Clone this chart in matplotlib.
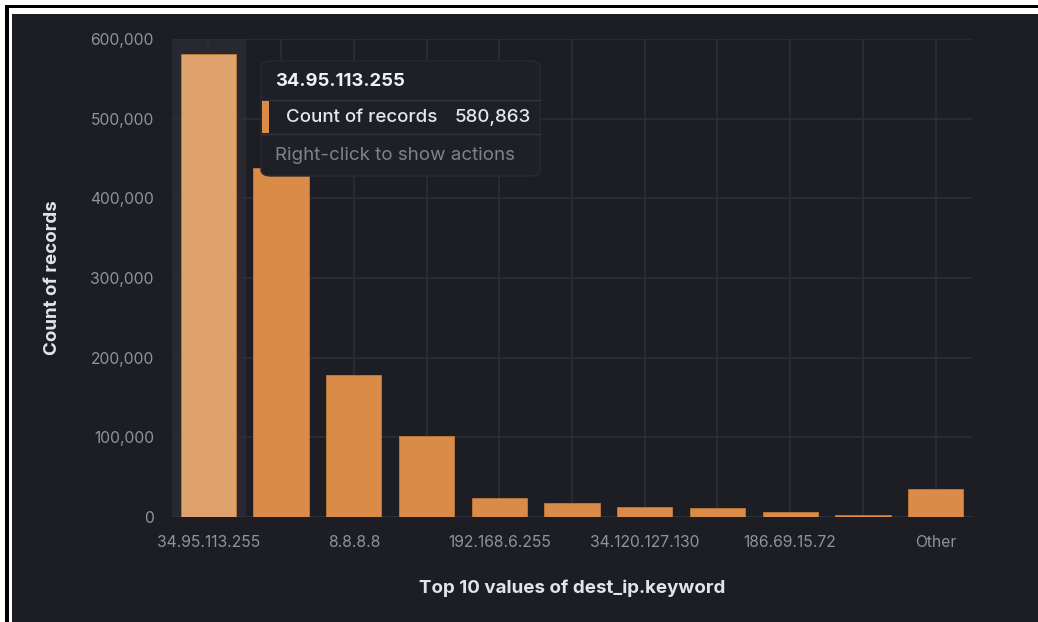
import numpy as np
import matplotlib.pyplot as plt
from matplotlib.patches import Rectangle, FancyBboxPatch
from matplotlib.ticker import FuncFormatter

# données
categories = ["34.95.113.255", "", "8.8.8.8", "", "192.168.6.255", "",
              "34.120.127.130", "", "186.69.15.72", "", "Other"]
counts = [580863, 438000, 178000, 102000, 24000, 18000, 13000, 11000, 6000, 3000, 35000]
y_ticks = [0, 100000, 200000, 300000, 400000, 500000, 600000]

BG = "#1d1e24"
GRID = "#2c2e36"
ORANGE = "#d98b47"
ORANGE_HL = "#e0a26c"
TICK = "#8e939e"
TITLE = "#dfe5ef"

W, H = 1038, 622
plt.rcParams["font.family"] = ["Inter", "DejaVu Sans"]

fig = plt.figure(figsize=(W / 100, H / 100), dpi=100)
fig.patch.set_facecolor("white")


def fx(px):
    return px / W


def fy(py):
    return 1 - py / H


# cadre noir + fond sombre
fig.patches.append(Rectangle((fx(5), 0), 1, fy(5), transform=fig.transFigure,
                             facecolor="black", edgecolor="none", zorder=-3))
fig.patches.append(Rectangle((fx(9), 0), 1, fy(8), transform=fig.transFigure,
                             facecolor="white", edgecolor="none", zorder=-2))
fig.patches.append(Rectangle((fx(12), 0), 1, fy(14), transform=fig.transFigure,
                             facecolor=BG, edgecolor="none", zorder=-1))

ax = fig.add_axes([fx(172), fy(517), fx(972) - fx(172), fy(39) - fy(517)])
ax.set_facecolor(BG)
ax.patch.set_alpha(0)

x = np.arange(len(categories))
# colonne survolée
ax.axvspan(-0.5, 0.5, color="#272830", zorder=0)

colors = [ORANGE_HL] + [ORANGE] * (len(counts) - 1)
ax.bar(x, counts, width=0.76, color=colors, edgecolor="#c07a3c", linewidth=0.6, zorder=3)

ax.set_xlim(-0.5, len(categories) - 0.5)
ax.set_ylim(0, 600000)
ax.set_yticks(y_ticks)
ax.yaxis.set_major_formatter(FuncFormatter(lambda v, p: f"{int(v):,}"))
ax.set_xticks(x)
ax.set_xticklabels(categories)

ax.grid(True, color=GRID, linewidth=1.2, zorder=1)
ax.set_axisbelow(True)
for s in ax.spines.values():
    s.set_visible(False)
ax.axhline(0, color="#30323b", linewidth=1.5, zorder=2)
ax.tick_params(length=0, colors=TICK, labelsize=11.3)
ax.tick_params(axis="y", pad=13)
ax.tick_params(axis="x", pad=13)

ax.set_ylabel("Count of records", color=TITLE, fontsize=13.5, fontweight="bold")
ax.yaxis.set_label_coords((52 - 172) / 800, 0.5)
ax.set_xlabel("Top 10 values of dest_ip.keyword", color=TITLE, fontsize=13.5, fontweight="bold")
ax.xaxis.set_label_coords(0.5, (517 - 588) / 478)
ax.xaxis.label.set_va("center")
ax.yaxis.label.set_va("center")

# infobulle
tip = FancyBboxPatch((fx(261), fy(176)), fx(540) - fx(261), fy(61) - fy(176),
                     boxstyle="round,pad=0,rounding_size=0.01", transform=fig.transFigure,
                     facecolor="#1f2027", edgecolor="#292b33", linewidth=1, zorder=10)
fig.patches.append(tip)
for yy in (100, 134):
    fig.add_artist(plt.Line2D([fx(262), fx(540)], [fy(yy), fy(yy)], transform=fig.transFigure,
                              color="#33353e", linewidth=1, zorder=11))
fig.patches.append(Rectangle((fx(262), fy(133)), fx(7), fy(101) - fy(133), transform=fig.transFigure,
                             facecolor=ORANGE, edgecolor="none", zorder=12))
fig.text(fx(275), fy(81), categories[0], color="#eef1f6", fontsize=13.3, fontweight="bold",
         va="center", ha="left", zorder=12)
fig.text(fx(286), fy(117), "Count of records", color="#e3e6ec", fontsize=13.5,
         fontweight="medium", va="center", ha="left", zorder=12)
fig.text(fx(531), fy(117), f"{counts[0]:,}", color="#e3e6ec", fontsize=13.5,
         fontweight="medium", va="center", ha="right", zorder=12)
fig.text(fx(275), fy(156), "Right-click to show actions", color="#7d828d", fontsize=13.5,
         va="center", ha="left", zorder=12)

fig.savefig("out.png", dpi=100, facecolor=fig.get_facecolor())
